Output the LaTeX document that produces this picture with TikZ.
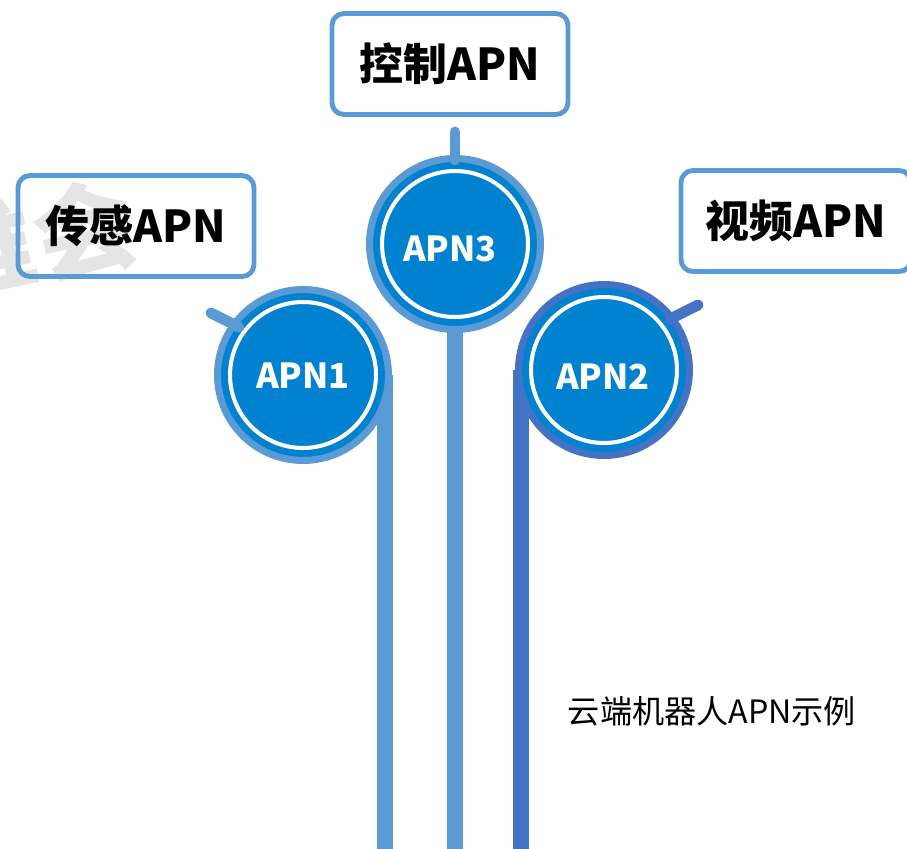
\documentclass[tikz,border=0pt]{standalone}
\usepackage{fontspec}
\setmainfont{Noto Sans CJK SC}
\usetikzlibrary{calc}
\usetikzlibrary{positioning}
\usetikzlibrary{backgrounds}

\definecolor{apnlight}{RGB}{91,155,213}
\definecolor{apndark}{RGB}{68,114,196}
\definecolor{apnfill}{RGB}{0,130,208}

\tikzset{
  apnbox/.style={draw=apnlight, line width=2.8pt, rounded corners=0.24cm, minimum width=4.72cm, minimum height=2.02cm, text=black, font=\fontsize{25}{25}\selectfont\bfseries},
  apncircle/.style={circle, draw=#1, line width=4pt, fill=apnfill, minimum size=3.42cm, inner sep=0pt},
  apnlabel/.style={text=white, inner sep=0pt, font=\fontsize{19.6}{20}\selectfont\bfseries},
  apnstem/.style={line width=9pt, draw=#1},
  apntick/.style={line width=6.2pt, line cap=round, draw=#1},
  innerring/.style={draw=white, line width=2.3pt},
}

\begin{document}
\begin{tikzpicture}[x=0.02cm, y=-0.02cm]

\useasboundingbox (0,0) rectangle (907,849);
\coordinate (bottom) at (0,849);

% watermark
\node[rotate=12, text=gray!20, font=\fontsize{58}{58}\selectfont\bfseries] (mark) at (34,240) {谁会};

% circles
\node[apncircle=apnlight] (apn1) at (303,375) {};
\node[apncircle=apnlight] (apn3) at (455,244) {};
\node[apncircle=apndark] (apn2) at (604,370) {};

\draw[innerring] (apn1.center) circle[radius=1.46cm];
\draw[innerring] (apn3.center) circle[radius=1.46cm];
\draw[innerring] (apn2.center) circle[radius=1.46cm];

% labels in the circles
\node[apnlabel] (lab1) at ($(apn1.center)+(0,1)$) {APN1};
\node[apnlabel] (lab3) at ($(apn3.center)+(-5,5)$) {APN3};
\node[apnlabel] (lab2) at ($(apn2.center)+(-1,7)$) {APN2};

% stems behind the circles
\begin{scope}[on background layer]
\draw[apnstem=apnlight] ($(apn1.center)+(82,0)$) coordinate (s1) -- (s1 |- bottom);
\draw[apnstem=apnlight] (apn3.center) -- (apn3.center |- bottom);
\draw[apnstem=apndark] ($(apn2.center)+(-83,0)$) coordinate (s2) -- (s2 |- bottom);
\end{scope}

% ticks
\draw[apntick=apnlight] ($(apn1.center)+(-64,-48)$) -- ($(apn1.center)+(-92,-62)$);
\draw[apntick=apnlight] ($(apn3.center)+(0,-84)$) -- ($(apn3.center)+(0,-112)$);
\draw[apntick=apndark] ($(apn2.center)+(66,-51)$) -- ($(apn2.center)+(94,-65)$);

% boxes
\node[apnbox] (sensebox) at (136,226) {传感APN};
\node[apnbox] (ctrlbox) at (450,64) {控制APN};
\node[apnbox, minimum width=4.6cm] (videobox) at (796,221) {视频APN};

% caption
\node[font=\fontsize{18.3}{19}\selectfont] (caption) at (712,711) {云端机器人APN示例};

\end{tikzpicture}
\end{document}
